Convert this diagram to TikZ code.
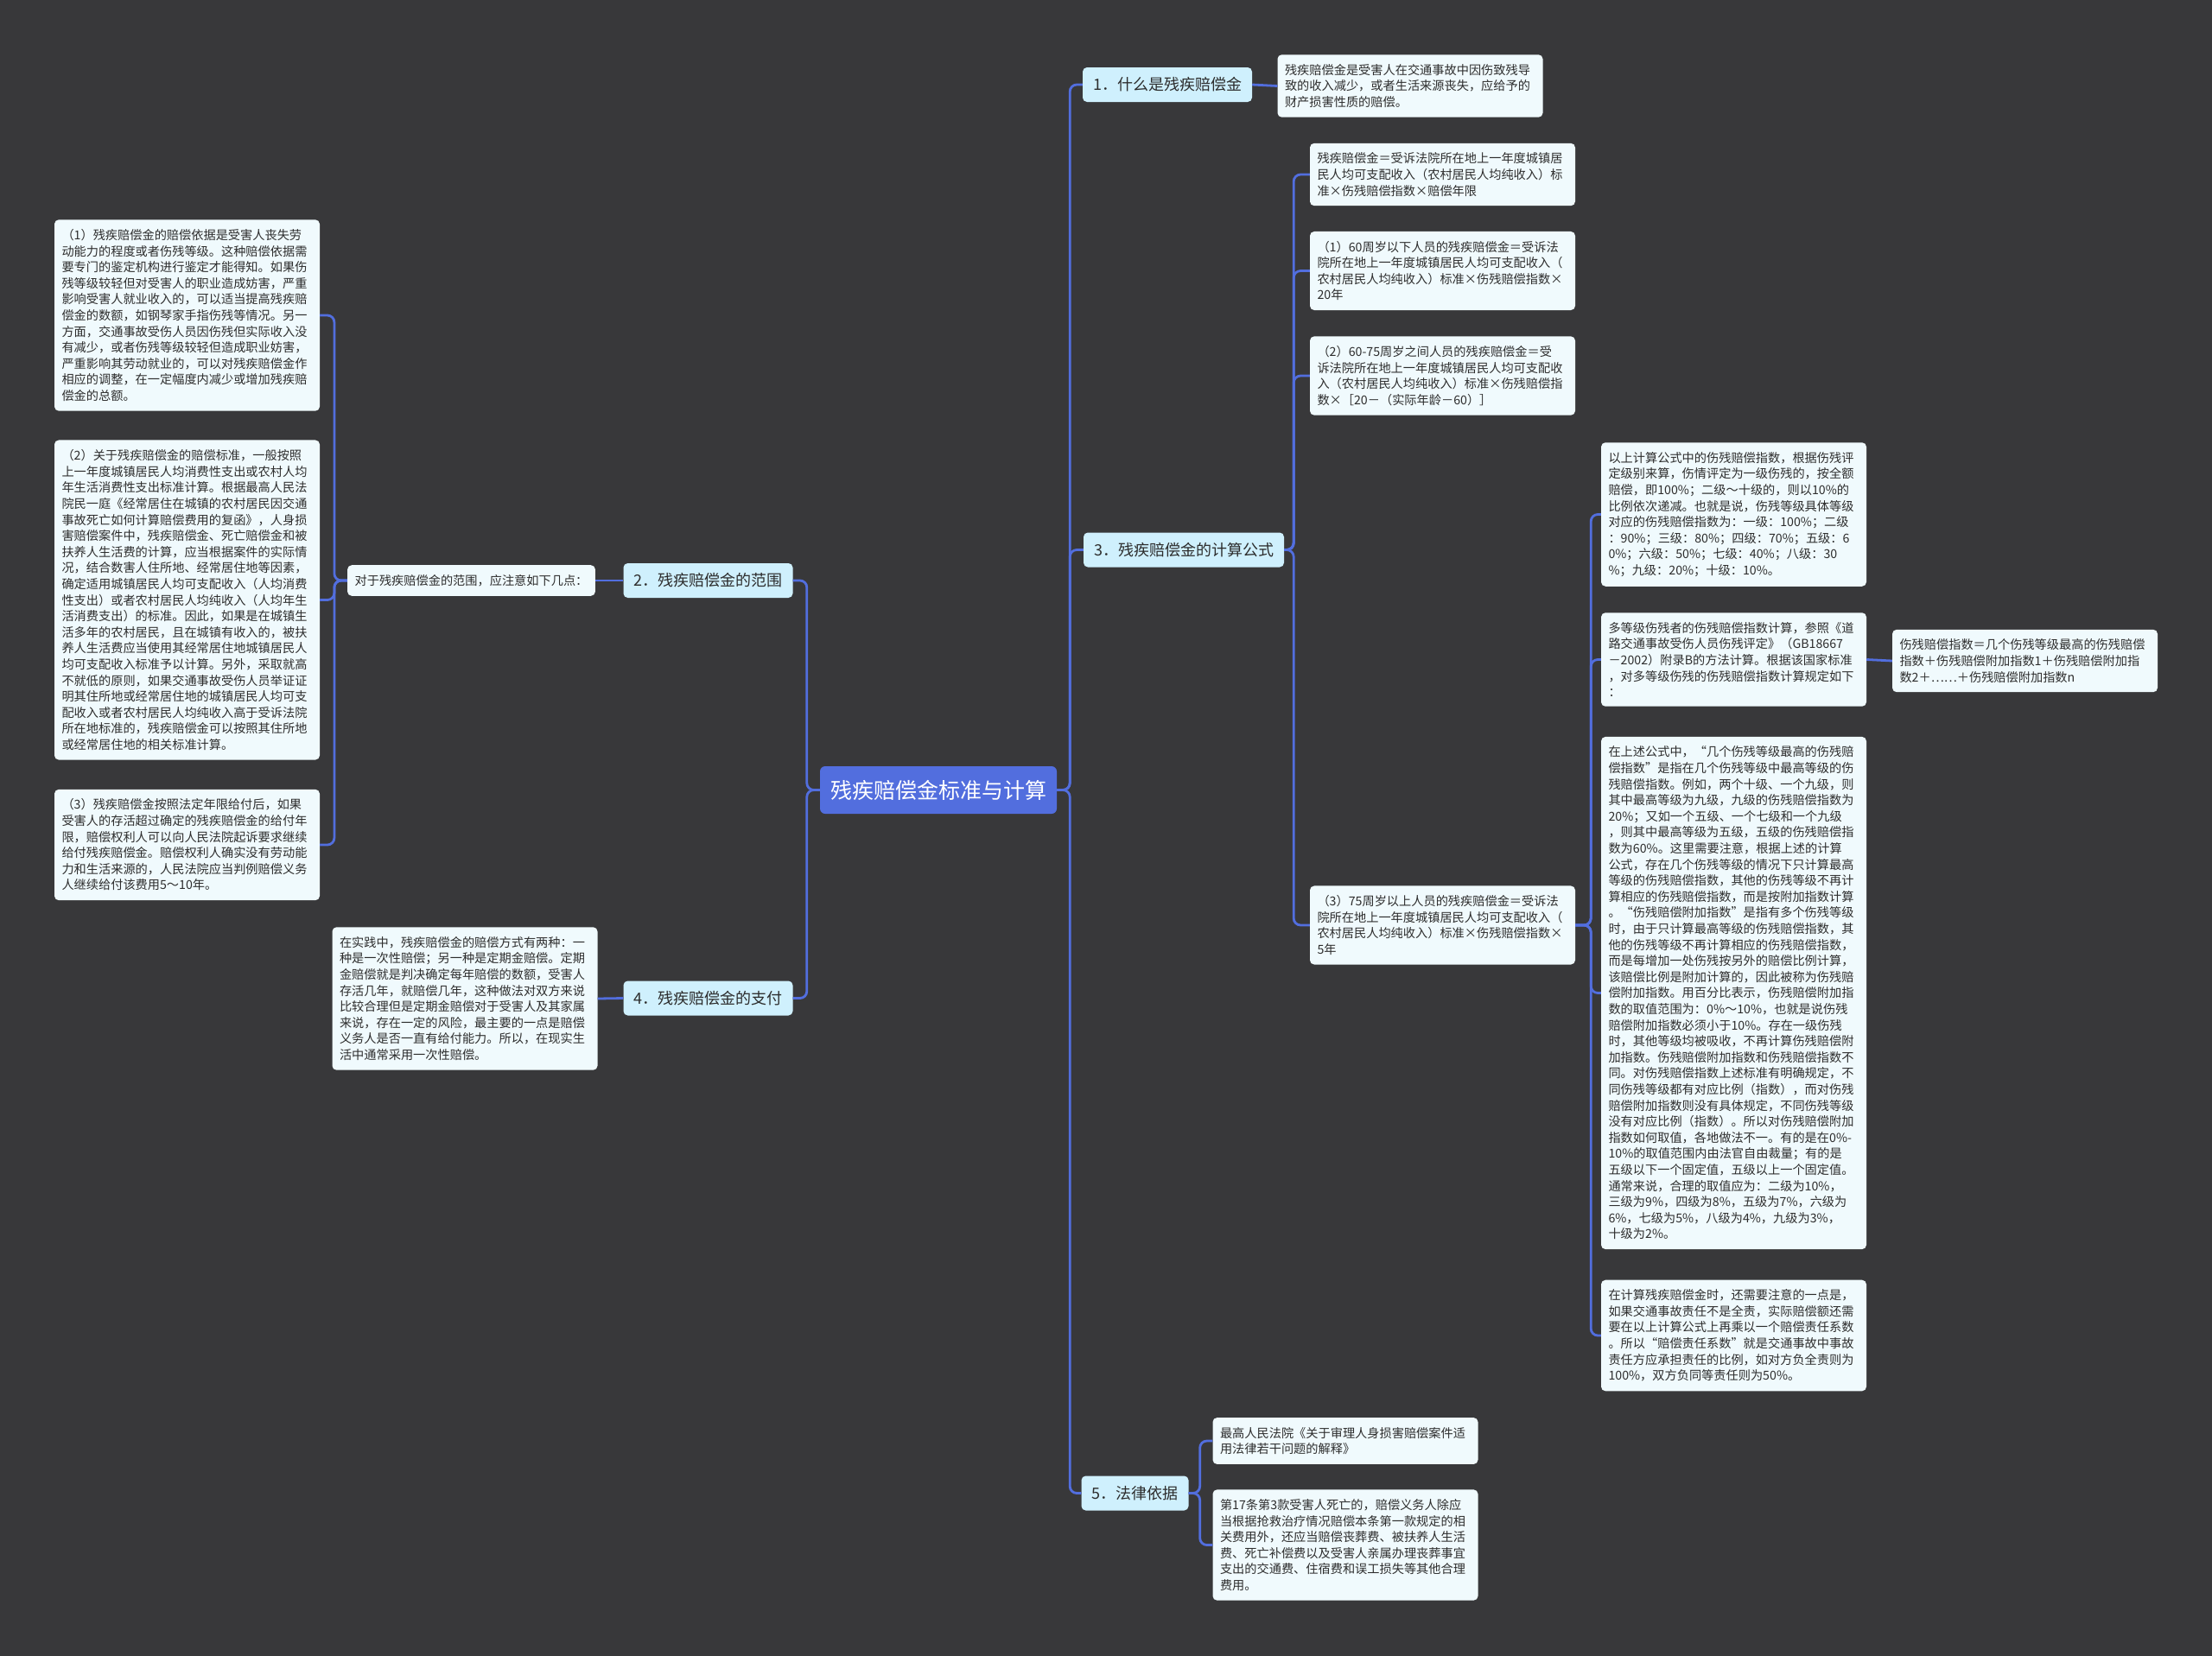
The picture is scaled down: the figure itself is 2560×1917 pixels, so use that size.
\documentclass[tikz,border=0pt]{standalone}
\usepackage{fontspec}
\setmainfont{Noto Sans CJK SC}
\definecolor{bgdark}{RGB}{56,56,58}
\definecolor{linkblue}{RGB}{82,110,222}
\definecolor{topicfill}{RGB}{207,240,253}
\definecolor{leaffill}{RGB}{240,250,253}
\definecolor{inkgray}{RGB}{45,45,45}

\begin{document}
\begin{tikzpicture}[x=1pt,y=-1pt,
  mainnode/.style={fill=linkblue,rounded corners=6pt,text=white,font=\fontsize{25}{30}\selectfont,minimum height=55pt,inner xsep=12pt},
  topicbox/.style={fill=topicfill,rounded corners=5pt,text=inkgray,font=\fontsize{18}{22}\selectfont,minimum height=40pt,inner xsep=12pt},
  leafbox/.style={fill=leaffill,rounded corners=5pt,text=inkgray,font=\fontsize{14.2}{18.6}\selectfont,text width=290pt,align=left,inner xsep=8.5pt,inner ysep=11pt},
  branch/.style={draw=linkblue,line width=2.8pt,rounded corners=8pt}]
\fill[bgdark] (0,0) rectangle (2560,1917);
\useasboundingbox (0,0) rectangle (2560,1917);

\node[mainnode] (central) at (1086,914.5) {残疾赔偿金标准与计算};

\node[topicbox] (b1) at (1351,98) {1．什么是残疾赔偿金};
\node[topicbox] (b3) at (1370,636.5) {3．残疾赔偿金的计算公式};
\node[topicbox] (b5) at (1313.5,1728.5) {5．法律依据};
\node[topicbox] (b2) at (819.5,672) {2．残疾赔偿金的范围};
\node[topicbox] (b4) at (819.5,1155.5) {4．残疾赔偿金的支付};

\node[leafbox] (t1) at (1632,99.5) {残疾赔偿金是受害人在交通事故中因伤致残导\\致的收入减少，或者生活来源丧失，应给予的\\财产损害性质的赔偿。};

\node[leafbox] (f0) at (1669.5,202) {残疾赔偿金＝受诉法院所在地上一年度城镇居\\民人均可支配收入（农村居民人均纯收入）标\\准×伤残赔偿指数×赔偿年限};
\node[leafbox] (f1) at (1669.5,313.5) {（1）60周岁以下人员的残疾赔偿金＝受诉法\\院所在地上一年度城镇居民人均可支配收入（\\农村居民人均纯收入）标准×伤残赔偿指数×\\20年};
\node[leafbox] (f2) at (1669.5,435) {（2）60-75周岁之间人员的残疾赔偿金＝受\\诉法院所在地上一年度城镇居民人均可支配收\\入（农村居民人均纯收入）标准×伤残赔偿指\\数×［20－（实际年龄－60）］};
\node[leafbox] (f3) at (1669.5,1071) {（3）75周岁以上人员的残疾赔偿金＝受诉法\\院所在地上一年度城镇居民人均可支配收入（\\农村居民人均纯收入）标准×伤残赔偿指数×\\5年};

\node[leafbox] (c1) at (2006.5,595.5) {以上计算公式中的伤残赔偿指数，根据伤残评\\定级别来算，伤情评定为一级伤残的，按全额\\赔偿，即100\%；二级～十级的，则以10\%的\\比例依次递减。也就是说，伤残等级具体等级\\对应的伤残赔偿指数为：一级：100\%；二级\\：90\%；三级：80\%；四级：70\%；五级：6\\0\%；六级：50\%；七级：40\%；八级：30\\\%；九级：20\%；十级：10\%。};
\node[leafbox] (c2) at (2006.5,763.5) {多等级伤残者的伤残赔偿指数计算，参照《道\\路交通事故受伤人员伤残评定》（GB18667\\－2002）附录B的方法计算。根据该国家标准\\，对多等级伤残的伤残赔偿指数计算规定如下\\：};
\node[leafbox] (c2a) at (2343.5,765) {伤残赔偿指数＝几个伤残等级最高的伤残赔偿\\指数＋伤残赔偿附加指数1＋伤残赔偿附加指\\数2＋……＋伤残赔偿附加指数n};
\node[leafbox] (c3) at (2006.5,1149.5) {在上述公式中，“几个伤残等级最高的伤残赔\\偿指数”是指在几个伤残等级中最高等级的伤\\残赔偿指数。例如，两个十级、一个九级，则\\其中最高等级为九级，九级的伤残赔偿指数为\\20\%；又如一个五级、一个七级和一个九级\\，则其中最高等级为五级，五级的伤残赔偿指\\数为60\%。这里需要注意，根据上述的计算\\公式，存在几个伤残等级的情况下只计算最高\\等级的伤残赔偿指数，其他的伤残等级不再计\\算相应的伤残赔偿指数，而是按附加指数计算\\。“伤残赔偿附加指数”是指有多个伤残等级\\时，由于只计算最高等级的伤残赔偿指数，其\\他的伤残等级不再计算相应的伤残赔偿指数，\\而是每增加一处伤残按另外的赔偿比例计算，\\该赔偿比例是附加计算的，因此被称为伤残赔\\偿附加指数。用百分比表示，伤残赔偿附加指\\数的取值范围为：0\%～10\%，也就是说伤残\\赔偿附加指数必须小于10\%。存在一级伤残\\时，其他等级均被吸收，不再计算伤残赔偿附\\加指数。伤残赔偿附加指数和伤残赔偿指数不\\同。对伤残赔偿指数上述标准有明确规定，不\\同伤残等级都有对应比例（指数），而对伤残\\赔偿附加指数则没有具体规定，不同伤残等级\\没有对应比例（指数）。所以对伤残赔偿附加\\指数如何取值，各地做法不一。有的是在0\%-\\10\%的取值范围内由法官自由裁量；有的是\\五级以下一个固定值，五级以上一个固定值。\\通常来说，合理的取值应为：二级为10\%，\\三级为9\%，四级为8\%，五级为7\%，六级为\\6\%，七级为5\%，八级为4\%，九级为3\%，\\十级为2\%。};
\node[leafbox] (c4) at (2006.5,1546) {在计算残疾赔偿金时，还需要注意的一点是，\\如果交通事故责任不是全责，实际赔偿额还需\\要在以上计算公式上再乘以一个赔偿责任系数\\。所以“赔偿责任系数”就是交通事故中事故\\责任方应承担责任的比例，如对方负全责则为\\100\%，双方负同等责任则为50\%。};

\node[leafbox,text width=,align=left] (s2) at (545.5,672) {对于残疾赔偿金的范围，应注意如下几点：};
\node[leafbox] (l1) at (216.5,365) {（1）残疾赔偿金的赔偿依据是受害人丧失劳\\动能力的程度或者伤残等级。这种赔偿依据需\\要专门的鉴定机构进行鉴定才能得知。如果伤\\残等级较轻但对受害人的职业造成妨害，严重\\影响受害人就业收入的，可以适当提高残疾赔\\偿金的数额，如钢琴家手指伤残等情况。另一\\方面，交通事故受伤人员因伤残但实际收入没\\有减少，或者伤残等级较轻但造成职业妨害，\\严重影响其劳动就业的，可以对残疾赔偿金作\\相应的调整，在一定幅度内减少或增加残疾赔\\偿金的总额。};
\node[leafbox] (l2) at (216.5,694.5) {（2）关于残疾赔偿金的赔偿标准，一般按照\\上一年度城镇居民人均消费性支出或农村人均\\年生活消费性支出标准计算。根据最高人民法\\院民一庭《经常居住在城镇的农村居民因交通\\事故死亡如何计算赔偿费用的复函》，人身损\\害赔偿案件中，残疾赔偿金、死亡赔偿金和被\\扶养人生活费的计算，应当根据案件的实际情\\况，结合数害人住所地、经常居住地等因素，\\确定适用城镇居民人均可支配收入（人均消费\\性支出）或者农村居民人均纯收入（人均年生\\活消费支出）的标准。因此，如果是在城镇生\\活多年的农村居民，且在城镇有收入的，被扶\\养人生活费应当使用其经常居住地城镇居民人\\均可支配收入标准予以计算。另外，采取就高\\不就低的原则，如果交通事故受伤人员举证证\\明其住所地或经常居住地的城镇居民人均可支\\配收入或者农村居民人均纯收入高于受诉法院\\所在地标准的，残疾赔偿金可以按照其住所地\\或经常居住地的相关标准计算。};
\node[leafbox] (l3) at (216.5,978) {（3）残疾赔偿金按照法定年限给付后，如果\\受害人的存活超过确定的残疾赔偿金的给付年\\限，赔偿权利人可以向人民法院起诉要求继续\\给付残疾赔偿金。赔偿权利人确实没有劳动能\\力和生活来源的，人民法院应当判例赔偿义务\\人继续给付该费用5～10年。};

\node[leafbox] (p4) at (538,1156) {在实践中，残疾赔偿金的赔偿方式有两种：一\\种是一次性赔偿；另一种是定期金赔偿。定期\\金赔偿就是判决确定每年赔偿的数额，受害人\\存活几年，就赔偿几年，这种做法对双方来说\\比较合理但是定期金赔偿对于受害人及其家属\\来说，存在一定的风险，最主要的一点是赔偿\\义务人是否一直有给付能力。所以，在现实生\\活中通常采用一次性赔偿。};

\node[leafbox] (law1) at (1557,1668) {最高人民法院《关于审理人身损害赔偿案件适\\用法律若干问题的解释》};
\node[leafbox] (law2) at (1557,1788.5) {第17条第3款受害人死亡的，赔偿义务人除应\\当根据抢救治疗情况赔偿本条第一款规定的相\\关费用外，还应当赔偿丧葬费、被扶养人生活\\费、死亡补偿费以及受害人亲属办理丧葬事宜\\支出的交通费、住宿费和误工损失等其他合理\\费用。};

\foreach \t in {b1,b3,b5} \draw[branch] (central.east) -- ++(15,0) |- (\t.west);
\foreach \t in {b2,b4} \draw[branch] (central.west) -- ++(-15,0) |- (\t.east);
\draw[branch] (b1.east) -- (t1.west);
\foreach \t in {f0,f1,f2,f3} \draw[branch] (b3.east) -- ++(11,0) |- (\t.west);
\foreach \t in {c1,c2,c3,c4} \draw[branch] (f3.east) -- ++(18,0) |- (\t.west);
\draw[branch] (c2.east) -- (c2a.west);
\draw[branch] (b2.west) -- (s2.east);
\foreach \t in {l1,l2,l3} \draw[branch] (s2.west) -- ++(-15,0) |- (\t.east);
\draw[branch] (b4.west) -- (p4.east);
\foreach \t in {law1,law2} \draw[branch] (b5.east) -- ++(13,0) |- (\t.west);
\end{tikzpicture}
\end{document}
